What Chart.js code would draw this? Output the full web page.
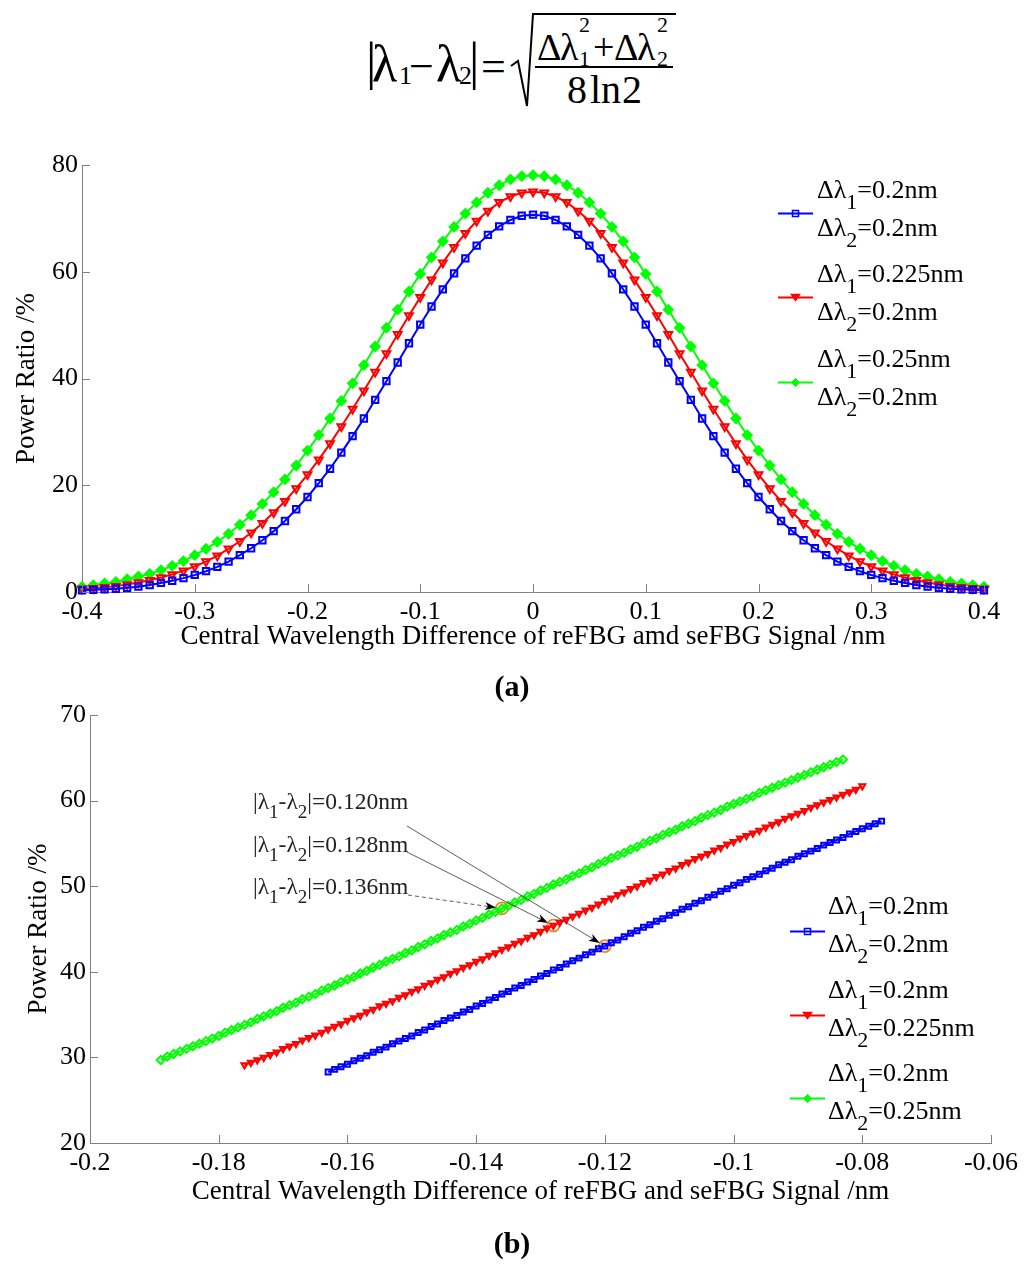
<!DOCTYPE html>
<html>
<head>
<meta charset="utf-8">
<script src="https://cdn.jsdelivr.net/npm/chart.js@4.4.1/dist/chart.umd.min.js"></script>
<style>
  html, body { margin: 0; padding: 0; background: #fff; }
  #page { position: relative; width: 1024px; height: 1264px; overflow: hidden;
          font-family: 'Liberation Serif', serif; color: #000; }
  canvas { position: absolute; left: 0; }
  .g { position: absolute; line-height: 1; white-space: nowrap; font-family: 'Liberation Serif', serif; }
  .leg { position: absolute; font-size: 26px; line-height: 38px; white-space: nowrap; font-family: 'Liberation Serif', serif; }
  .leg sub { font-size: 22px; vertical-align: -11px; line-height: 0; }
  .ann { position: absolute; font-size: 23.5px; line-height: 1; white-space: nowrap; color: #222; font-family: 'Liberation Serif', serif; }
  .ann sub { font-size: 19px; vertical-align: -9px; line-height: 0; }
  .cap { position: absolute; width: 1024px; left: 0; text-align: center; font-weight: bold; font-size: 30px; line-height: 1; }
</style>
</head>
<body>
<div id="page">
  <svg style="position:absolute;left:0;top:0" width="1024" height="120">
    <polyline points="511,66 518,61 527,106 533,14 676,14" fill="none" stroke="#000" stroke-width="2"/>
    <line x1="535" y1="67" x2="673" y2="67" stroke="#000" stroke-width="2"/>
  </svg>

  <canvas id="chartA" width="1024" height="540" style="top:140px"></canvas>
  <div class="cap" style="top:671px">(a)</div>

  <canvas id="chartB" width="1024" height="540" style="top:690px"></canvas>
  <div class="cap" style="top:1228px">(b)</div>
</div>

<script>
// ---- figure (a): power ratio vs central wavelength difference ----
const xA = [-0.40,-0.39,-0.38,-0.37,-0.36,-0.35,-0.34,-0.33,-0.32,-0.31,
  -0.30,-0.29,-0.28,-0.27,-0.26,-0.25,-0.24,-0.23,-0.22,-0.21,
  -0.20,-0.19,-0.18,-0.17,-0.16,-0.15,-0.14,-0.13,-0.12,-0.11,
  -0.10,-0.09,-0.08,-0.07,-0.06,-0.05,-0.04,-0.03,-0.02,-0.01,
  0,
  0.01,0.02,0.03,0.04,0.05,0.06,0.07,0.08,0.09,0.10,
  0.11,0.12,0.13,0.14,0.15,0.16,0.17,0.18,0.19,0.20,
  0.21,0.22,0.23,0.24,0.25,0.26,0.27,0.28,0.29,0.30,
  0.31,0.32,0.33,0.34,0.35,0.36,0.37,0.38,0.39,0.40];

const blueA = [0.3,0.4,0.5,0.6,0.8,1.0,1.3,1.7,2.1,2.6,
  3.2,3.9,4.7,5.7,6.9,8.2,9.7,11.4,13.3,15.5,
  17.8,20.4,23.1,26.1,29.2,32.5,36.0,39.5,43.0,46.6,
  50.1,53.5,56.7,59.7,62.5,64.9,66.9,68.5,69.7,70.5,
  70.7,
  70.5,69.7,68.5,66.9,64.9,62.5,59.7,56.7,53.5,50.1,
  46.6,43.0,39.5,36.0,32.5,29.2,26.1,23.1,20.4,17.8,
  15.5,13.3,11.4,9.7,8.2,6.9,5.7,4.7,3.9,3.2,
  2.6,2.1,1.7,1.3,1.0,0.8,0.6,0.5,0.4,0.3];

const redA = [0.6,0.7,0.9,1.1,1.4,1.8,2.2,2.7,3.3,4.0,
  4.8,5.7,6.8,8.1,9.5,11.1,12.9,14.9,17.0,19.4,
  22.0,24.8,27.8,31.0,34.3,37.7,41.2,44.7,48.3,51.8,
  55.2,58.5,61.7,64.6,67.2,69.5,71.4,73.0,74.1,74.8,
  75.0,
  74.8,74.1,73.0,71.4,69.5,67.2,64.6,61.7,58.5,55.2,
  51.8,48.3,44.7,41.2,37.7,34.3,31.0,27.8,24.8,22.0,
  19.4,17.0,14.9,12.9,11.1,9.5,8.1,6.8,5.7,4.8,
  4.0,3.3,2.7,2.2,1.8,1.4,1.1,0.9,0.7,0.6];

const greenA = [1.0,1.3,1.6,1.9,2.4,2.9,3.4,4.1,4.9,5.8,
  6.9,8.1,9.4,10.9,12.6,14.4,16.5,18.7,21.1,23.7,
  26.5,29.4,32.5,35.8,39.1,42.5,46.0,49.5,52.9,56.3,
  59.6,62.7,65.7,68.4,70.9,73.0,74.8,76.2,77.3,77.9,
  78.1,
  77.9,77.3,76.2,74.8,73.0,70.9,68.4,65.7,62.7,59.6,
  56.3,52.9,49.5,46.0,42.5,39.1,35.8,32.5,29.4,26.5,
  23.7,21.1,18.7,16.5,14.4,12.6,10.9,9.4,8.1,6.9,
  5.8,4.9,4.1,3.4,2.9,2.4,1.9,1.6,1.3,1.0];

const legendA = [['0.2nm', '0.2nm'], ['0.225nm', '0.2nm'], ['0.25nm', '0.2nm']];

// ---- figure (b): zoom on the rising flank ----
const xB = [-0.189,-0.188,-0.187,-0.186,-0.185,-0.184,-0.183,-0.182,-0.181,-0.180,
  -0.179,-0.178,-0.177,-0.176,-0.175,-0.174,-0.173,-0.172,-0.171,-0.170,
  -0.169,-0.168,-0.167,-0.166,-0.165,-0.164,-0.163,-0.162,-0.161,-0.160,
  -0.159,-0.158,-0.157,-0.156,-0.155,-0.154,-0.153,-0.152,-0.151,-0.150,
  -0.149,-0.148,-0.147,-0.146,-0.145,-0.144,-0.143,-0.142,-0.141,-0.140,
  -0.139,-0.138,-0.137,-0.136,-0.135,-0.134,-0.133,-0.132,-0.131,-0.130,
  -0.129,-0.128,-0.127,-0.126,-0.125,-0.124,-0.123,-0.122,-0.121,-0.120,
  -0.119,-0.118,-0.117,-0.116,-0.115,-0.114,-0.113,-0.112,-0.111,-0.110,
  -0.109,-0.108,-0.107,-0.106,-0.105,-0.104,-0.103,-0.102,-0.101,-0.100,
  -0.099,-0.098,-0.097,-0.096,-0.095,-0.094,-0.093,-0.092,-0.091,-0.090,
  -0.089,-0.088,-0.087,-0.086,-0.085,-0.084,-0.083,-0.082,-0.081,-0.080,
  -0.079,-0.078,-0.077];

const blueBStart = -0.163;
const blueB = [28.3,28.6,28.9,29.2,
  29.6,29.9,30.2,30.6,30.9,31.2,31.6,31.9,32.2,32.5,
  32.9,33.2,33.6,33.9,34.3,34.6,34.9,35.3,35.6,36.0,
  36.3,36.7,37.0,37.4,37.7,38.1,38.4,38.8,39.1,39.5,
  39.8,40.2,40.5,40.9,41.3,41.6,42.0,42.3,42.7,43.0,
  43.4,43.7,44.1,44.5,44.8,45.2,45.5,45.9,46.2,46.6,
  46.9,47.3,47.6,48.0,48.3,48.7,49.0,49.4,49.7,50.1,
  50.4,50.8,51.1,51.4,51.8,52.1,52.5,52.8,53.1,53.5,
  53.8,54.1,54.4,54.8,55.1,55.4,55.7,56.1,56.4,56.7,
  57.0,57.3,57.6];

const redBStart = -0.176;
const redB = [29.1,29.4,29.7,30.0,30.3,30.6,31.0,
  31.3,31.6,32.0,32.3,32.6,32.9,33.3,33.6,33.9,34.3,
  34.6,34.9,35.3,35.6,36.0,36.3,36.6,37.0,37.3,37.7,
  38.0,38.4,38.7,39.1,39.4,39.8,40.1,40.5,40.8,41.2,
  41.5,41.9,42.2,42.6,42.9,43.3,43.6,44.0,44.3,44.7,
  45.1,45.4,45.8,46.1,46.5,46.8,47.2,47.5,47.9,48.3,
  48.6,49.0,49.3,49.7,50.0,50.4,50.7,51.1,51.4,51.8,
  52.1,52.5,52.8,53.2,53.5,53.8,54.2,54.5,54.9,55.2,
  55.6,55.9,56.2,56.5,56.9,57.2,57.5,57.9,58.2,58.5,
  58.8,59.2,59.5,59.8,60.1,60.4,60.7,61.0,61.3,61.7];

const greenBStart = -0.189;
const greenB = [29.7,30.1,30.4,30.7,31.0,31.3,31.6,31.9,32.2,32.5,
  32.9,33.2,33.5,33.8,34.1,34.5,34.8,35.1,35.4,35.8,
  36.1,36.4,36.8,37.1,37.4,37.8,38.1,38.4,38.8,39.1,
  39.4,39.8,40.1,40.5,40.8,41.2,41.5,41.8,42.2,42.5,
  42.9,43.2,43.6,43.9,44.3,44.6,44.9,45.3,45.6,46.0,
  46.3,46.7,47.0,47.4,47.7,48.1,48.4,48.8,49.1,49.5,
  49.8,50.2,50.5,50.8,51.2,51.5,51.9,52.2,52.6,52.9,
  53.3,53.6,53.9,54.3,54.6,55.0,55.3,55.6,56.0,56.3,
  56.6,57.0,57.3,57.6,58.0,58.3,58.6,58.9,59.3,59.6,
  59.9,60.2,60.5,60.9,61.2,61.5,61.8,62.1,62.4,62.7,
  63.0,63.3,63.6,63.9,64.2,64.5,64.8];

const legendB = [['0.2nm', '0.2nm'], ['0.2nm', '0.225nm'], ['0.2nm', '0.25nm']];

// marked points (blue, red, green) and their labels
const markX = [-0.120, -0.128, -0.136];
const markY = [43.0, 45.4, 47.4];
const markText = ['0.120nm', '0.128nm', '0.136nm'];

const FONT = "'Liberation Serif', serif";
const colors = ['#0000ff', '#ff0000', '#00ff00'];
const shapes = [
  { pointStyle: 'rect', rotation: 0 },
  { pointStyle: 'triangle', rotation: 180 },
  { pointStyle: 'rectRot', rotation: 0 }
];

function pts(xs, ys, x0) {
  const s = xs.indexOf(x0);
  return ys.map((y, i) => ({ x: xs[s + i], y: y }));
}

function series(data, i, r, fill) {
  return {
    data: data,
    borderColor: colors[i],
    backgroundColor: 'rgba(255,255,255,0)',
    borderWidth: 2,
    pointRadius: r,
    pointBorderWidth: 2,
    pointStyle: shapes[i].pointStyle,
    pointRotation: shapes[i].rotation,
    pointBorderColor: colors[i],
    pointBackgroundColor: fill ? colors[i] : 'rgba(255,255,255,0)',
    tension: 0,
    fill: false,
    clip: false
  };
}

// MATLAB style ticks pointing into the plot
const inTicks = {
  id: 'inTicks',
  afterDraw(chart) {
    const { ctx, chartArea: a, scales: { x, y } } = chart;
    ctx.save();
    ctx.strokeStyle = '#808080';
    ctx.lineWidth = 1;
    ctx.beginPath();
    x.ticks.forEach(t => {
      const px = Math.round(x.getPixelForValue(t.value)) + 0.5;
      ctx.moveTo(px, a.bottom);
      ctx.lineTo(px, a.bottom - 8);
    });
    y.ticks.forEach(t => {
      const py = Math.round(y.getPixelForValue(t.value)) + 0.5;
      ctx.moveTo(a.left, py);
      ctx.lineTo(a.left + 8, py);
    });
    ctx.stroke();
    ctx.restore();
  }
};

const arrows = {
  id: 'arrows',
  afterDraw(chart, args, opts) {
    if (!opts.from) return;
    const { ctx, scales: { x, y } } = chart;
    opts.from.forEach((f, i) => {
      const tx = x.getPixelForValue(markX[i]);
      const ty = y.getPixelForValue(markY[i]);
      const ang = Math.atan2(ty - f[1], tx - f[0]);
      const c = Math.cos(ang), s = Math.sin(ang);
      const ex = tx - c * 6, ey = ty - s * 6;
      ctx.save();
      ctx.strokeStyle = '#333';
      ctx.lineWidth = 0.8;
      ctx.setLineDash(opts.dash[i] || []);
      ctx.beginPath();
      ctx.moveTo(f[0], f[1]);
      ctx.lineTo(ex - c * 8, ey - s * 8);
      ctx.stroke();
      ctx.setLineDash([]);
      ctx.fillStyle = '#000';
      ctx.beginPath();
      ctx.moveTo(ex, ey);
      ctx.lineTo(ex - c * 11 + s * 4, ey - s * 11 - c * 4);
      ctx.lineTo(ex - c * 8, ey - s * 8);
      ctx.lineTo(ex - c * 11 - s * 4, ey - s * 11 + c * 4);
      ctx.closePath();
      ctx.fill();
      ctx.restore();
    });
  }
};

function axes(o) {
  const tickFont = { family: FONT, size: 26 };
  const titleFont = { family: FONT, size: 27 };
  return {
    x: {
      type: 'linear', min: o.xmin, max: o.xmax,
      afterFit: s => { s.height = 65; },
      ticks: { stepSize: o.xstep, color: '#000', font: tickFont, padding: 5, maxRotation: 0,
               callback: v => String(+v.toFixed(3)) },
      grid: { drawOnChartArea: false, drawTicks: false },
      border: { color: '#808080', width: 1 },
      title: { display: true, text: o.xTitle, color: '#000', font: titleFont,
               padding: { top: 0, bottom: o.xTitlePad } }
    },
    y: {
      type: 'linear', min: o.ymin, max: o.ymax,
      afterFit: s => { s.width = o.yWidth; },
      ticks: { stepSize: o.ystep, color: '#000', font: tickFont, padding: 4 },
      grid: { drawOnChartArea: false, drawTicks: false },
      border: { color: '#808080', width: 1 },
      title: { display: true, text: 'Power Ratio /%', color: '#000', font: titleFont,
               padding: { top: o.yTitlePad, bottom: 0 } }
    }
  };
}

const common = {
  responsive: false,
  animation: false,
  events: [],
  plugins: { legend: { display: false }, tooltip: { enabled: false } }
};

new Chart(document.getElementById('chartA'), {
  type: 'line',
  data: {
    datasets: [
      series(pts(xA, blueA, -0.40), 0, 4.5, false),
      series(pts(xA, redA, -0.40), 1, 4.5, false),
      series(pts(xA, greenA, -0.40), 2, 4.5, true)
    ]
  },
  options: Object.assign({}, common, {
    layout: { padding: { top: 25, right: 40, bottom: 23, left: 0 } },
    scales: axes({ xmin: -0.4, xmax: 0.4, xstep: 0.1, ymin: 0, ymax: 80, ystep: 20,
                   xTitle: 'Central Wavelength Difference of reFBG amd seFBG Signal /nm',
                   yWidth: 82, yTitlePad: 11, xTitlePad: 4 })
  }),
  plugins: [inTicks]
});

new Chart(document.getElementById('chartB'), {
  type: 'line',
  data: {
    datasets: [
      series(pts(xB, blueB, blueBStart), 0, 3.5, false),
      series(pts(xB, redB, redBStart), 1, 3.5, false),
      series(pts(xB, greenB, greenBStart), 2, 4, false),
      {
        data: markX.map((x, i) => ({ x: x, y: markY[i] })),
        showLine: false,
        pointStyle: 'circle',
        pointRadius: 6,
        pointBorderWidth: 1.8,
        pointBorderColor: '#f5821f',
        pointBackgroundColor: 'rgba(255,255,255,0)',
        clip: false
      }
    ]
  },
  options: Object.assign({}, common, {
    layout: { padding: { top: 25, right: 33, bottom: 22, left: 0 } },
    scales: axes({ xmin: -0.2, xmax: -0.06, xstep: 0.02, ymin: 20, ymax: 70, ystep: 10,
                   xTitle: 'Central Wavelength Difference of reFBG and seFBG Signal /nm',
                   yWidth: 90, yTitlePad: 23, xTitlePad: 0 }),
    plugins: Object.assign({}, common.plugins, {
      arrows: { from: [[407, 136], [407, 162], [408, 205]], dash: [null, null, [4, 3]] }
    })
  }),
  plugins: [inTicks, arrows]
});

// ---- HTML text: formula, legends, annotations ----
const page = document.getElementById('page');

function glyph(txt, left, base, size) {
  const d = document.createElement('div');
  d.className = 'g';
  d.style.left = left + 'px';
  d.style.top = (base - 0.8375 * size) + 'px';
  d.style.fontSize = size + 'px';
  d.textContent = txt;
  page.appendChild(d);
}
[
  ['|', 366, 80, 52], ['λ', 372, 82, 52], ['1', 399, 85, 26], ['−', 409, 82, 44],
  ['λ', 436, 82, 52], ['2', 459, 85, 26], ['|', 469, 80, 52], ['=', 481, 82, 44],
  ['Δ', 537, 60, 38], ['λ', 560, 60, 38], ['2', 579, 32, 22], ['1', 579, 66, 22],
  ['+', 593, 60, 38], ['Δ', 614, 60, 38], ['λ', 637, 60, 38], ['2', 657, 32, 22],
  ['2', 657, 66, 22], ['8', 567, 103, 40], ['ln', 590, 103, 40], ['2', 622, 103, 40]
].forEach(g => glyph(g[0], g[1], g[2], g[3]));

function markerSvg(i) {
  const c = colors[i];
  let m;
  if (i === 0) m = `<rect x="14.5" y="3.5" width="6" height="6" fill="none" stroke="${c}" stroke-width="1.5"/>`;
  else if (i === 1) m = `<polygon points="13.5,3.5 21.5,3.5 17.5,9.5" fill="${c}" stroke="${c}" stroke-width="1.5"/>`;
  else m = `<polygon points="17.5,2.5 21.5,6.5 17.5,10.5 13.5,6.5" fill="${c}" stroke="${c}" stroke-width="1"/>`;
  return `<line x1="0" y1="6.5" x2="35" y2="6.5" stroke="${c}" stroke-width="2"/>` + m;
}

function legend(items, x0, tx, ys, off) {
  items.forEach((it, i) => {
    const s = document.createElementNS('http://www.w3.org/2000/svg', 'svg');
    s.setAttribute('width', '36');
    s.setAttribute('height', '13');
    s.style.position = 'absolute';
    s.style.left = x0 + 'px';
    s.style.top = (ys[i] - 6.5) + 'px';
    s.innerHTML = markerSvg(i);
    page.appendChild(s);
    const d = document.createElement('div');
    d.className = 'leg';
    d.style.left = tx + 'px';
    d.style.top = (ys[i] - off) + 'px';
    d.innerHTML = 'Δλ<sub>1</sub>=' + it[0] + '<br>Δλ<sub>2</sub>=' + it[1];
    page.appendChild(d);
  });
}
legend(legendA, 778, 817, [213, 297, 382], 42);
legend(legendB, 790, 828, [931, 1015, 1098], 44);

// annotation labels, top to bottom: 0.120, 0.128, 0.136
const annTop = [790, 833, 875];
markText.forEach((t, k) => {
  const d = document.createElement('div');
  d.className = 'ann';
  d.style.left = '253px';
  d.style.top = annTop[k] + 'px';
  d.innerHTML = '|λ<sub>1</sub>-λ<sub>2</sub>|=' + t;
  page.appendChild(d);
});
</script>
</body>
</html>
